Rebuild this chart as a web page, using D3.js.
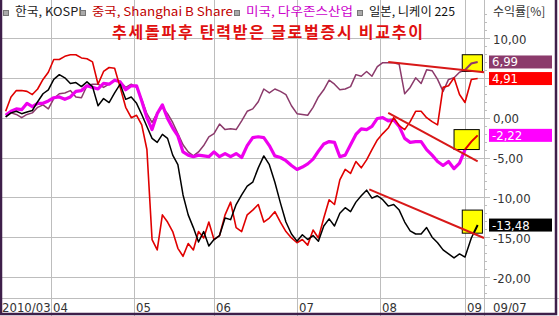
<!DOCTYPE html>
<html>
<head>
<meta charset="utf-8">
<script src="https://cdn.jsdelivr.net/npm/d3@7"></script>
<style>
  body { margin: 0; background: #fff; }
  svg { display: block; }
  .kr { font-family: "Noto Sans CJK KR", sans-serif; }
  .num { font-family: "Liberation Sans Narrow", "DejaVu Sans Condensed", "Liberation Sans", sans-serif; font-stretch: condensed; }
</style>
</head>
<body>
<svg id="chart" width="559" height="316"></svg>
<script>
// 한국 / 중국 / 미국 / 일본 증시 수익률 (%), 2일 간격 표본
const dates = d3.timeDay.range(new Date(2010, 2, 15), new Date(2010, 8, 6), 2);

const kospi = [
  0.1, 0.6, 0.8, 0.5, 0.7, 0.9, 2.0, 3.0, 3.5, 4.8,
  5.4, 5.0, 4.3, 4.4, 3.9, 4.5, 3.9, 1.5, 2.4, 1.9,
  3.1, 4.2, 2.3, 2.6, 1.8, 0.4, -1.1, -2.6, -3.1, -2.1,
  -2.6, -4.7, -5.9, -9.7, -12.2, -13.8, -15.6, -14.3, -16.1, -15.3,
  -14.8, -12.6, -12.8, -10.9, -9.7, -8.6, -8.1, -6.3, -4.8, -5.9,
  -8.1, -10.7, -13.1, -14.6, -15.5, -14.7, -15.3, -14.8, -15.5, -13.6,
  -12.7, -13.6, -12.0, -11.3, -11.8, -10.6, -9.8, -9.1, -10.1, -9.8,
  -10.3, -11.1, -10.9, -11.6, -13.1, -14.2, -14.6, -14.6, -13.8, -15.0,
  -15.7, -16.6, -17.1, -17.6, -17.1, -17.5, -15.1, -13.48
];
const shanghaiB = [
  0.8, 2.6, 3.4, 3.4, 3.3, 2.9, 3.6, 4.8, 5.7, 7.3,
  7.3, 7.7, 7.9, 7.9, 7.5, 7.4, 7.0, 4.2, 5.8, 6.3,
  6.2, 3.8, 1.3, 0, 0.3, -0.9, -4.0, -15.3, -16.6, -12.2,
  -13.1, -14.3, -16.4, -17.4, -15.8, -16.6, -14.3, -15.1, -13.1, -15.3,
  -14.8, -12.2, -10.6, -13.8, -14.3, -12.2, -11.6, -10.9, -13.1, -12.6,
  -11.8, -13.1, -14.3, -15.1, -15.7, -15.3, -16.0, -14.1, -15.1, -12.6,
  -10.3, -10.9, -7.8, -6.5, -7.0, -5.5, -6.3, -5.3, -4.0, -2.8,
  -2.0, -1.3, 0, -1.0, -1.5, -0.5, 0.8, 0.8, 0, -0.5,
  -0.9, 3.8, 4.0, 5.0, 2.9, 1.9, 4.8, 4.91
];
const dow = [
  0.3, 0.8, 1.1, 1.0, 1.8, 1.4, 1.8, 1.8, 2.1, 2.5,
  2.6, 2.3, 2.6, 3.3, 3.4, 4.0, 3.8, 3.6, 4.3, 4.2,
  4.7, 4.5, 3.5, 4.0, 4.0, 2.1, 0, -1.5, 0.5, 1.6,
  -0.1, -1.3, -2.3, -4.3, -4.7, -4.9, -4.7, -4.8, -4.9, -4.3,
  -4.9, -4.5, -4.9, -4.5, -5.0, -3.5, -2.5, -2.4, -2.5, -3.5,
  -4.8, -5.0, -5.4, -6.0, -6.5, -6.2, -5.8, -5.2, -4.2, -3.3,
  -3.0, -3.1, -4.9, -4.7, -3.4, -2.1, -1.4, -1.5, -1.1, -0.1,
  0, -0.4, -0.3, -1.1, -2.6, -3.1, -3.0, -3.0, -4.0, -4.7,
  -5.5, -6.0, -5.5, -6.4, -5.7, -4.0, -3.0, -2.22
];
const nikkei = [
  0.1, 0.6, 0.4, 0, 0.4, 0.6, 1.3, 1.6, 1.1, 2.4,
  3.0, 3.1, 3.4, 2.6, 2.5, 4.0, 4.2, 4.2, 3.8, 4.2,
  4.7, 4.5, 3.8, 4.2, 3.8, 2.3, 0.5, -0.6, 0.6, 1.3,
  0.5, -0.6, -2.0, -3.4, -4.3, -4.8, -4.3, -3.5, -2.4, -2.0,
  -0.8, -1.5, -1.4, -1.5, -0.4, 0.8, 1.1, 2.0, 3.6, 3.1,
  3.6, 3.3, 2.9, 1.5, 0.5, 0.4, 0.3, 1.3, 2.6, 3.5,
  4.7, 4.2, 3.5, 3.6, 3.9, 5.4, 5.2, 5.8, 5.2, 6.4,
  6.9, 6.9, 6.9, 6.7, 3.0, 3.8, 5.0, 4.3, 6.0, 5.9,
  4.8, 3.3, 4.8, 5.0, 5.7, 6.0, 6.8, 6.99
];

const legendNames = ['한국, KOSPI', '중국, Shanghai B Share', '미국, 다우존스산업', '일본, 니케이 225'];
const monthDates = [new Date(2010, 3, 1), new Date(2010, 4, 1), new Date(2010, 5, 1),
  new Date(2010, 6, 1), new Date(2010, 7, 1), new Date(2010, 8, 1)];
const monthLabels = ['04', '05', '06', '07', '08', '09'];
const yTicks = [10, 5, 0, -5, -10, -15, -20];

// 추세선 / 강조 박스 (날짜, 수익률)
const trendLines = [
  [[new Date(2010, 7, 4), 7.0], [new Date(2010, 8, 7), 5.7]],
  [[new Date(2010, 7, 4), 0.6], [new Date(2010, 8, 5), -5.5]],
  [[new Date(2010, 6, 28), -9.0], [new Date(2010, 8, 7), -15.1]]
];
const highlightBoxes = [
  { x0: new Date(2010, 7, 31), x1: new Date(2010, 8, 6, 12), y0: 7.9, y1: 5.8, series: 3, color: '#8b3a6b' },
  { x0: new Date(2010, 7, 28), x1: new Date(2010, 8, 5, 12), y0: -1.5, y1: -4.0, series: 2, color: '#e00000' },
  { x0: new Date(2010, 7, 31), x1: new Date(2010, 8, 6, 12), y0: -11.6, y1: -14.5, series: 0, color: '#000000' }
];

const series = [
  { values: kospi, color: '#000000', label: '#000000', width: 1.5, legend: '#222222' },
  { values: shanghaiB, color: '#e00000', label: '#ff0000', width: 1.6, legend: '#c00000' },
  { values: dow, color: '#ee00ee', label: '#ff00ff', width: 3.2, legend: '#cc00cc' },
  { values: nikkei, color: '#8b3a6b', label: '#8b3a6b', width: 1.5, legend: '#111111' }
];

const W = 559, H = 316;
const svg = d3.select('#chart');

const x = d3.scaleTime()
  .domain([new Date(2010, 2, 14), ...monthDates, new Date(2010, 8, 7)])
  .range([3, 51, 134, 214, 297, 380, 465, 484]);
const y = d3.scaleLinear().domain([-20, 10]).range([277, 38]);
const axisX = x(new Date(2010, 8, 7));
const baseY = 298;

// grid
const grid = svg.append('g').attr('stroke', '#bdbdbd').attr('stroke-width', 1);
grid.selectAll('line.h').data(yTicks).join('line')
  .attr('x1', 0).attr('x2', axisX)
  .attr('y1', d => Math.round(y(d)) + 0.5).attr('y2', d => Math.round(y(d)) + 0.5);
grid.selectAll('line.v').data(monthDates).join('line')
  .attr('x1', d => Math.round(x(d)) + 0.5).attr('x2', d => Math.round(x(d)) + 0.5)
  .attr('y1', 0).attr('y2', H);
grid.append('line').attr('x1', axisX + 0.5).attr('x2', axisX + 0.5).attr('y1', 0).attr('y2', H);
grid.append('line').attr('x1', 0).attr('x2', W).attr('y1', baseY + 0.5).attr('y2', baseY + 0.5);

// minor ticks on value axis
svg.append('g').attr('stroke', '#bdbdbd')
  .selectAll('line').data(d3.range(-22, 14)).join('line')
  .attr('x1', axisX).attr('x2', d => axisX + (d % 5 === 0 ? 6 : 3))
  .attr('y1', d => Math.round(y(d)) + 0.5).attr('y2', d => Math.round(y(d)) + 0.5);

// y labels
svg.append('g').attr('class', 'num').attr('font-size', 13).attr('fill', '#333')
  .selectAll('text').data(yTicks).join('text')
  .attr('x', 493).attr('y', d => y(d) + 5.5)
  .text(d => d.toFixed(2).replace('.', ','));

// x labels
const xl = svg.append('g').attr('class', 'num').attr('font-size', 13).attr('fill', '#333');
xl.selectAll('text').data(monthDates).join('text')
  .attr('x', d => x(d) + 2).attr('y', 312)
  .text((d, i) => monthLabels[i]);
xl.append('text').attr('x', 2).attr('y', 312).text('2010/03');
xl.append('text').attr('x', 493).attr('y', 312).text('09/07');

// series
const line = d3.line().x((d, i) => x(dates[i])).y(d => y(d));
const drawOrder = [3, 2, 1, 0];
svg.append('g').attr('fill', 'none').attr('stroke-linejoin', 'round')
  .selectAll('path').data(drawOrder.map(k => series[k])).join('path')
  .attr('d', s => line(s.values))
  .attr('stroke', s => s.color).attr('stroke-width', s => s.width);

// highlight boxes
const defs = svg.append('defs');
highlightBoxes.forEach((b, i) => {
  const bx = x(b.x0), by = y(b.y0), bw = x(b.x1) - x(b.x0), bh = y(b.y1) - y(b.y0);
  defs.append('clipPath').attr('id', 'clip' + i)
    .append('rect').attr('x', bx).attr('y', by).attr('width', bw).attr('height', bh);
  svg.append('rect').attr('x', bx).attr('y', by).attr('width', bw).attr('height', bh)
    .attr('fill', '#ffff00').attr('stroke', '#000').attr('stroke-width', 1);
  svg.append('path').attr('clip-path', `url(#clip${i})`)
    .attr('d', line(series[b.series].values))
    .attr('fill', 'none').attr('stroke', b.color).attr('stroke-width', 2);
});

// trend lines
svg.append('g').attr('stroke', '#d81818').attr('stroke-width', 2)
  .selectAll('line').data(trendLines).join('line')
  .attr('x1', d => x(d[0][0])).attr('y1', d => y(d[0][1]))
  .attr('x2', d => x(d[1][0])).attr('y2', d => y(d[1][1]));

// last value labels
const lab = svg.append('g').attr('class', 'num').attr('font-size', 13);
series.forEach(s => {
  const v = s.values[s.values.length - 1];
  lab.append('rect').attr('x', 489).attr('y', y(v) - 6.5).attr('width', 63).attr('height', 13).attr('fill', s.label);
  lab.append('text').attr('x', 492).attr('y', y(v) + 4.5).attr('fill', '#fff')
    .text(v.toFixed(2).replace('.', ','));
});

// legend
const legendX = [15, 92, 246, 369];
const legendW = [67, 141, 107, 86];
const lg = svg.append('g').attr('class', 'kr').attr('font-size', 12);
legendNames.forEach((n, i) => {
  lg.append('rect').attr('x', legendX[i] - 11.5).attr('y', 10.5).attr('width', 5).attr('height', 5)
    .attr('fill', '#aaa').attr('stroke', '#777');
  lg.append('text').attr('x', legendX[i]).attr('y', 16).attr('fill', series[i].legend)
    .attr('textLength', legendW[i]).attr('lengthAdjust', 'spacingAndGlyphs').text(n);
});
svg.append('text').attr('class', 'kr').attr('font-size', 12).attr('fill', '#333')
  .attr('x', 493).attr('y', 16).text('수익률[%]');

// title
svg.append('text').attr('class', 'kr').attr('font-size', 16).attr('font-weight', 'bold')
  .attr('fill', '#e01010').attr('x', 112).attr('y', 38)
  .attr('textLength', 311).attr('lengthAdjust', 'spacing')
  .text('추세돌파후 탄력받은 글로벌증시 비교추이');

// frame
svg.append('path').attr('d', `M1,0 V${H - 2} H${W - 3} V0`)
  .attr('fill', 'none').attr('stroke', '#3e1f4a').attr('stroke-width', 2.5);
</script>
</body>
</html>
